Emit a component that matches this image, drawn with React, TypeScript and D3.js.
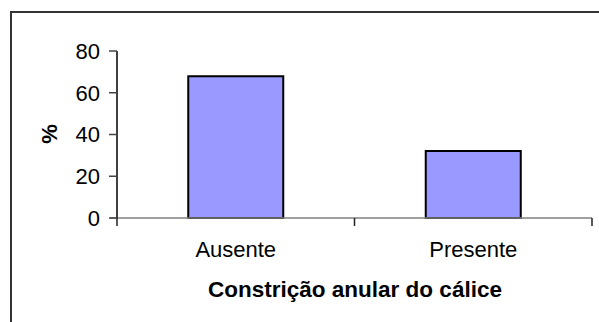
import React from "react";
import * as d3 from "d3";

// Share of flowers by presence of the annular calyx constriction
const categories = ["Ausente", "Presente"];
const percentages = [67.9, 32.1];
const yTicks = [0, 20, 40, 60, 80];

const WIDTH = 599;
const HEIGHT = 322;
const FONT = "'Liberation Sans', Arial, sans-serif";

export default function App() {
  const plot = { left: 117, right: 592, top: 51, bottom: 218 };

  const y = d3.scaleLinear().domain([0, 80]).range([plot.bottom, plot.top]);
  const x = d3
    .scaleBand<string>()
    .domain(categories)
    .range([plot.left, plot.right])
    .paddingInner(0)
    .paddingOuter(0);

  // Excel-style gap width of 150%: bar occupies band / 2.5
  const barWidth = x.bandwidth() / 2.5;
  const boundaries = [plot.left, ...categories.map((c) => (x(c) ?? 0) + x.bandwidth())];

  return (
    <svg
      width={WIDTH}
      height={HEIGHT}
      style={{ position: "absolute", left: 0, top: 0, background: "#fff" }}
      fontFamily={FONT}
    >
      {/* chart area frame */}
      <path d={`M11,${HEIGHT} V12 H${WIDTH}`} fill="none" stroke="#333" strokeWidth={2} />

      {/* bars */}
      {categories.map((c, i) => {
        const cx = (x(c) ?? 0) + x.bandwidth() / 2;
        return (
          <rect
            key={c}
            x={cx - barWidth / 2}
            y={y(percentages[i])}
            width={barWidth}
            height={y(0) - y(percentages[i])}
            fill="#9999FF"
            stroke="#000"
            strokeWidth={2}
          />
        );
      })}

      {/* x axis */}
      <line x1={plot.left - 7} x2={plot.right} y1={y(0)} y2={y(0)} stroke="#808080" strokeWidth={1.5} />
      {boundaries.map((bx, i) => (
        <line key={i} x1={bx} x2={bx} y1={y(0)} y2={y(0) + 8} stroke="#222" strokeWidth={1.5} />
      ))}
      {categories.map((c) => (
        <text
          key={c}
          x={(x(c) ?? 0) + x.bandwidth() / 2}
          y={257}
          textAnchor="middle"
          fontSize={22}
          fill="#000"
        >
          {c}
        </text>
      ))}

      {/* y axis */}
      <line x1={plot.left} x2={plot.left} y1={plot.top} y2={plot.bottom} stroke="#000" strokeWidth={1.5} />
      {yTicks.map((t) => (
        <g key={t}>
          <line x1={plot.left - 8} x2={plot.left} y1={y(t)} y2={y(t)} stroke="#444" strokeWidth={1.5} />
          <text x={100} y={y(t)} dy="0.36em" textAnchor="end" fontSize={22} fill="#000">
            {t}
          </text>
        </g>
      ))}

      {/* axis titles */}
      <text
        transform="translate(49.5,134) rotate(-90)"
        textAnchor="middle"
        dy="0.36em"
        fontSize={22}
        fontWeight="bold"
        fill="#000"
      >
        %
      </text>
      <text x={355} y={297} textAnchor="middle" fontSize={22.5} fontWeight="bold" fill="#000">
        Constrição anular do cálice
      </text>
    </svg>
  );
}
